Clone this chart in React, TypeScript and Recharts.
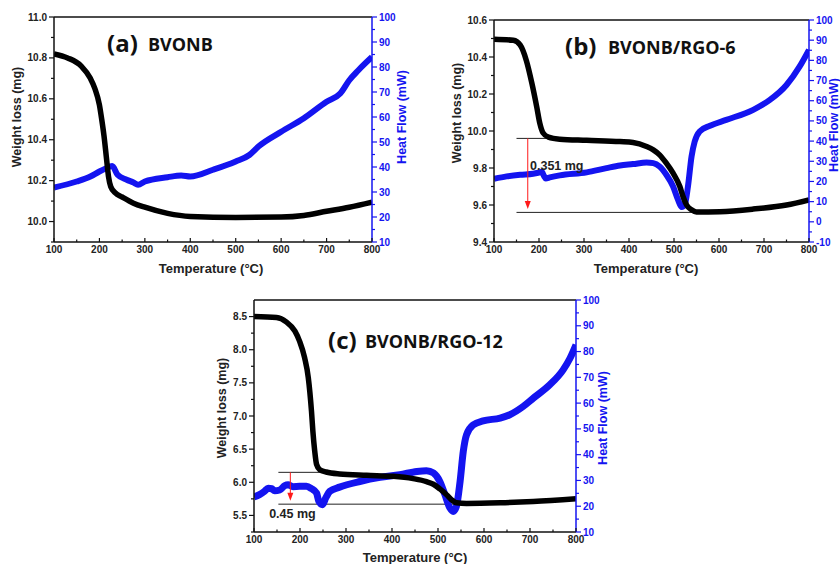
import React from 'react';
import { ComposedChart, Line, XAxis, YAxis, ReferenceLine, ReferenceDot } from 'recharts';

// ---------- shared axis ticks ----------
const X_TICKS = [100, 200, 300, 400, 500, 600, 700, 800];
const X_MINOR = [150, 250, 350, 450, 550, 650, 750];

// ---------- (a) BVONB ----------
const A_WT_T = [100, 130, 160, 180, 190, 200, 205, 210, 215, 220, 225, 235, 250, 275, 300, 350, 400, 500, 600, 650, 700, 750, 800];
const A_WT = [10.82, 10.8, 10.76, 10.7, 10.65, 10.57, 10.5, 10.42, 10.32, 10.22, 10.17, 10.14, 10.12, 10.09, 10.07, 10.04, 10.025, 10.02, 10.022, 10.03, 10.05, 10.07, 10.095];
const A_HF_T = [100, 150, 180, 200, 215, 228, 240, 260, 275, 285, 300, 350, 380, 400, 450, 500, 530, 550, 600, 650, 700, 730, 750, 770, 800];
const A_HF = [31.8, 34.2, 36.2, 38.2, 39.5, 40.4, 36.9, 34.9, 33.8, 32.9, 34.2, 35.9, 36.6, 36.2, 38.9, 42.2, 44.8, 48.2, 54.1, 59.5, 66.1, 69.4, 74.7, 78.7, 84.0];
const A_L_TICKS = [10.0, 10.2, 10.4, 10.6, 10.8, 11.0];
const A_L_MINOR = [9.9, 10.1, 10.3, 10.5, 10.7, 10.9];

// ---------- (b) BVONB/RGO-6 ----------
const B_WT_T = [100, 143, 158, 172, 184, 195, 202, 209, 221, 246, 306, 380, 409, 439, 454, 468, 483, 498, 513, 520, 528, 539, 550, 602, 676, 750, 800];
const B_WT = [10.496, 10.49, 10.465, 10.38, 10.26, 10.13, 10.04, 9.99, 9.967, 9.956, 9.95, 9.943, 9.938, 9.916, 9.898, 9.871, 9.826, 9.772, 9.7, 9.646, 9.6, 9.574, 9.562, 9.564, 9.578, 9.6, 9.628];
const B_HF_T = [100, 128, 158, 187, 198, 206, 211, 215, 224, 246, 306, 350, 380, 409, 439, 454, 468, 483, 498, 509, 517, 524, 531, 539, 546, 557, 580, 616, 676, 713, 750, 779, 800];
const B_HF = [21.3, 22.5, 23.3, 23.8, 24.3, 24.8, 22.8, 21.5, 22.0, 23.0, 24.5, 26.6, 27.9, 28.6, 29.4, 29.1, 27.4, 23.3, 17.5, 10.9, 7.3, 8.5, 17.5, 32.4, 39.8, 44.8, 47.6, 50.5, 55.5, 60.4, 67.8, 76.9, 85.2];
const B_L_TICKS = [9.4, 9.6, 9.8, 10.0, 10.2, 10.4, 10.6];
const B_L_MINOR = [9.5, 9.7, 9.9, 10.1, 10.3, 10.5];
const B_STEP_TOP = 9.96;
const B_STEP_BOTTOM = 9.56;
const B_STEP_LABEL = '0.351 mg';

// ---------- (c) BVONB/RGO-12 ----------
const C_WT_T = [100, 149, 170, 189, 199, 210, 218, 225, 228, 232, 236, 243, 257, 286, 345, 403, 446, 475, 490, 504, 519, 529, 540, 562, 635, 707, 800];
const C_WT = [8.5, 8.485, 8.42, 8.28, 8.13, 7.88, 7.58, 7.07, 6.77, 6.47, 6.27, 6.19, 6.155, 6.125, 6.105, 6.09, 6.055, 6.01, 5.97, 5.9, 5.81, 5.74, 5.69, 5.68, 5.69, 5.71, 5.75];
const C_HF_T = [100, 112, 123, 131, 138, 145, 156, 167, 174, 185, 199, 214, 225, 236, 241, 249, 256, 265, 286, 330, 374, 417, 454, 475, 490, 504, 515, 526, 533, 540, 548, 555, 562, 577, 598, 635, 656, 685, 707, 743, 772, 787, 800];
const C_HF = [23.6, 24.5, 25.8, 27.0, 26.8, 26.0, 26.3, 28.0, 28.3, 27.6, 27.7, 27.7, 26.8, 25.1, 21.9, 20.6, 23.2, 25.8, 27.4, 29.6, 31.2, 32.2, 33.5, 33.8, 32.9, 29.6, 24.5, 19.3, 18.0, 19.9, 29.6, 41.3, 47.7, 51.6, 53.1, 54.2, 55.5, 58.7, 61.9, 67.1, 72.9, 77.4, 82.6];
const C_L_TICKS = [5.5, 6.0, 6.5, 7.0, 7.5, 8.0, 8.5];
const C_L_MINOR = [5.25, 5.75, 6.25, 6.75, 7.25, 7.75, 8.25];
const C_STEP_TOP = 6.15;
const C_STEP_BOTTOM = 5.67;
const C_STEP_LABEL = '0.45 mg';

// heat-flow axes
const HF_TICKS_10 = [10, 20, 30, 40, 50, 60, 70, 80, 90, 100];
const HF_MINOR_10 = [15, 25, 35, 45, 55, 65, 75, 85, 95];
const HF_TICKS_B = [-10, 0, 10, 20, 30, 40, 50, 60, 70, 80, 90, 100];
const HF_MINOR_B = [-5, 5, 15, 25, 35, 45, 55, 65, 75, 85, 95];

const BLUE = '#1414f0';
const DARK = '#111';
const TICK_FONT = 'Liberation Sans, Arial, sans-serif';
const TITLE_FONT = '"Open Sans", "Liberation Sans", sans-serif';

const pts = (t: number[], v: number[]) => t.map((x, i) => ({ t: x, v: v[i] }));
const merge = (a: number[], b: number[]) => [...a, ...b].sort((p, q) => p - q);
const isMajor = (v: number, majors: number[]) => majors.some((m) => Math.abs(m - v) < 1e-6);

const Arrow = (p: any) => {
  const { x1, y1, x2, y2 } = p;
  return (
    <g>
      <line x1={x1} y1={y1} x2={x2} y2={y2 - 6} stroke="#ff1a1a" strokeWidth={1} />
      <polygon points={`${x2 - 3},${y2 - 8} ${x2 + 3},${y2 - 8} ${x2},${y2}`} fill="#ff1a1a" />
    </g>
  );
};

const tickText = { fontSize: 10, fontWeight: 700, fontFamily: TICK_FONT };

const makeLeftTick = (majors: number[], fmt: (v: number) => string) => (props: any) => {
  const { x, y, payload } = props;
  const major = isMajor(payload.value, majors);
  return (
    <g>
      <line x1={x - (major ? 5 : 3)} x2={x} y1={y} y2={y} stroke={DARK} strokeWidth={1.2} />
      {major && (
        <text x={x - 7} y={y} dy="0.35em" textAnchor="end" fill="#222" {...tickText}>{fmt(payload.value)}</text>
      )}
    </g>
  );
};

const makeRightTick = (majors: number[]) => (props: any) => {
  const { x, y, payload } = props;
  const major = isMajor(payload.value, majors);
  return (
    <g>
      <line x1={x} x2={x + (major ? 5 : 3)} y1={y} y2={y} stroke={BLUE} strokeWidth={1.2} />
      {major && (
        <text x={x + 7} y={y} dy="0.35em" textAnchor="start" fill={BLUE} {...tickText}>{String(payload.value)}</text>
      )}
    </g>
  );
};

const makeBottomTick = (majors: number[]) => (props: any) => {
  const { x, y, payload } = props;
  const major = isMajor(payload.value, majors);
  return (
    <g>
      <line x1={x} x2={x} y1={y} y2={y - (major ? 4 : 2.5)} stroke={DARK} strokeWidth={1.2} />
      {major && (
        <text x={x} y={y + 3} dy="0.8em" textAnchor="middle" fill="#222" {...tickText}>{String(payload.value)}</text>
      )}
    </g>
  );
};

type PanelProps = {
  width: number;
  height: number;
  margin: { top: number; right: number; bottom: number; left: number };
  xH: number;
  lW: number;
  rW: number;
  lDomain: [number, number];
  lTicks: number[];
  lMinor: number[];
  lFmt: (v: number) => string;
  rDomain: [number, number];
  rTicks: number[];
  rMinor: number[];
  weight: { t: number; v: number }[];
  heat: { t: number; v: number }[];
  blueW: number;
  step?: { top: number; bottom: number; x0: number; x1: number; x2: number; ax: number; label: string; lx: number; ly: number };
};

function Panel(p: PanelProps) {
  return (
    <ComposedChart width={p.width} height={p.height} margin={p.margin}>
      <XAxis xAxisId="x" type="number" dataKey="t" domain={[100, 800]} ticks={merge(X_TICKS, X_MINOR)} interval={0}
        allowDataOverflow height={p.xH} tickLine={false} tickSize={0} tickMargin={0}
        tick={makeBottomTick(X_TICKS)} axisLine={{ stroke: DARK, strokeWidth: 1.5 }} />
      <YAxis yAxisId="L" orientation="left" type="number" domain={p.lDomain} ticks={merge(p.lTicks, p.lMinor)} interval={0}
        allowDataOverflow width={p.lW} tickSize={0} tickMargin={0} tickLine={false}
        tick={makeLeftTick(p.lTicks, p.lFmt)} axisLine={{ stroke: DARK, strokeWidth: 1.5 }} />
      <YAxis yAxisId="R" orientation="right" type="number" domain={p.rDomain} ticks={merge(p.rTicks, p.rMinor)} interval={0}
        allowDataOverflow width={p.rW} tickSize={0} tickMargin={0} tickLine={false}
        tick={makeRightTick(p.rTicks)} axisLine={{ stroke: BLUE, strokeWidth: 1.5 }} />
      <ReferenceLine xAxisId="x" yAxisId="L" y={p.lDomain[1]} stroke={DARK} strokeWidth={1.5} ifOverflow="visible" />
      {p.step && (
        <ReferenceLine xAxisId="x" yAxisId="L" ifOverflow="visible" stroke="#222" strokeWidth={1}
          segment={[{ x: p.step.x0, y: p.step.top }, { x: p.step.x1, y: p.step.top }]} />
      )}
      {p.step && (
        <ReferenceLine xAxisId="x" yAxisId="L" ifOverflow="visible" stroke="#222" strokeWidth={1}
          segment={[{ x: p.step.x0, y: p.step.bottom }, { x: p.step.x2, y: p.step.bottom }]} />
      )}
      <Line xAxisId="x" yAxisId="R" data={p.heat} dataKey="v" type="monotone" stroke={BLUE}
        strokeWidth={p.blueW} dot={false} isAnimationActive={false} />
      <Line xAxisId="x" yAxisId="L" data={p.weight} dataKey="v" type="monotone" stroke="#000"
        strokeWidth={5.5} dot={false} isAnimationActive={false} />
      {p.step && (
        <ReferenceLine xAxisId="x" yAxisId="L" ifOverflow="visible"
          segment={[{ x: p.step.ax, y: p.step.top }, { x: p.step.ax, y: p.step.bottom + 0.015 * (p.lDomain[1] - p.lDomain[0]) }]}
          shape={Arrow} />
      )}
      {p.step && (
        <ReferenceDot xAxisId="x" yAxisId="L" x={p.step.lx} y={p.step.ly} r={0} ifOverflow="visible"
          shape={(d: any) => (
            <text x={d.cx} y={d.cy} fontSize={12.5} fontWeight={700} fontFamily={TICK_FONT} fill="#222">{p.step!.label}</text>
          )} />
      )}
    </ComposedChart>
  );
}

const fmt1 = (v: number) => v.toFixed(1);

function Labels() {
  const lab = { fontFamily: TICK_FONT, fontWeight: 700 as const, fontSize: 12.5, textAnchor: 'middle' as const, dominantBaseline: 'central' as const };
  const title = { fontFamily: TITLE_FONT, fontWeight: 700 as const, fill: '#111' };
  const vlab = (x: number, y: number, text: string, color: string) => (
    <text x={x} y={y} transform={`rotate(-90 ${x} ${y})`} {...lab} fill={color}>{text}</text>
  );
  return (
    <svg width={840} height={564} style={{ position: 'absolute', left: 0, top: 0, pointerEvents: 'none' }}>
      {/* (a) */}
      <text x={107} y={52} {...title} fontSize={24}>(a)</text>
      <text x={148} y={51} {...title} fontSize={18}>BVONB</text>
      {vlab(17, 117, 'Weight loss (mg)', '#222')}
      {vlab(402, 117, 'Heat Flow (mW)', BLUE)}
      <text x={211} y={268} {...lab} fontSize={13} fill="#222">Temperature (°C)</text>
      {/* (b) */}
      <text x={565} y={55} {...title} fontSize={24}>(b)</text>
      <text x={608} y={54} {...title} fontSize={18}>BVONB/RGO-6</text>
      {vlab(457, 113, 'Weight loss (mg)', '#222')}
      {vlab(834, 125, 'Heat Flow (mW)', BLUE)}
      <text x={646} y={268} {...lab} fontSize={13} fill="#222">Temperature (°C)</text>
      {/* (c) */}
      <text x={328} y={349} {...title} fontSize={24}>(c)</text>
      <text x={365} y={348} {...title} fontSize={18}>BVONB/RGO-12</text>
      {vlab(222, 408, 'Weight loss (mg)', '#222')}
      {vlab(603, 418, 'Heat Flow (mW)', BLUE)}
      <text x={415} y={557} {...lab} fontSize={13} fill="#222">Temperature (°C)</text>
    </svg>
  );
}

export default function App() {
  return (
    <div style={{ position: 'absolute', left: 0, top: 0, width: 840, height: 564, overflow: 'hidden', background: '#fff' }}>
      <div style={{ position: 'absolute', left: 0, top: 0 }}>
        <Panel width={420} height={290} margin={{ top: 17, right: 0, bottom: 0, left: 0 }} xH={48} lW={54} rW={48}
          lDomain={[9.9, 11.0]} lTicks={A_L_TICKS} lMinor={A_L_MINOR} lFmt={fmt1}
          rDomain={[10, 100]} rTicks={HF_TICKS_10} rMinor={HF_MINOR_10}
          weight={pts(A_WT_T, A_WT)} heat={pts(A_HF_T, A_HF)} blueW={6} />
      </div>
      <div style={{ position: 'absolute', left: 420, top: 0 }}>
        <Panel width={420} height={290} margin={{ top: 20, right: 0, bottom: 0, left: 0 }} xH={48} lW={74} rW={31}
          lDomain={[9.4, 10.6]} lTicks={B_L_TICKS} lMinor={B_L_MINOR} lFmt={fmt1}
          rDomain={[-10, 100]} rTicks={HF_TICKS_B} rMinor={HF_MINOR_B}
          weight={pts(B_WT_T, B_WT)} heat={pts(B_HF_T, B_HF)} blueW={6}
          step={{ top: B_STEP_TOP, bottom: B_STEP_BOTTOM, x0: 150, x1: 290, x2: 550, ax: 175, label: B_STEP_LABEL, lx: 180, ly: 9.79 }} />
      </div>
      <div style={{ position: 'absolute', left: 200, top: 285 }}>
        <Panel width={420} height={279} margin={{ top: 15, right: 0, bottom: 0, left: 0 }} xH={32} lW={54} rW={44}
          lDomain={[5.25, 8.75]} lTicks={C_L_TICKS} lMinor={C_L_MINOR} lFmt={fmt1}
          rDomain={[10, 100]} rTicks={HF_TICKS_10} rMinor={HF_MINOR_10}
          weight={pts(C_WT_T, C_WT)} heat={pts(C_HF_T, C_HF)} blueW={7}
          step={{ top: C_STEP_TOP, bottom: C_STEP_BOTTOM, x0: 153, x1: 260, x2: 560, ax: 179, label: C_STEP_LABEL, lx: 133, ly: 5.46 }} />
      </div>
      <Labels />
    </div>
  );
}
